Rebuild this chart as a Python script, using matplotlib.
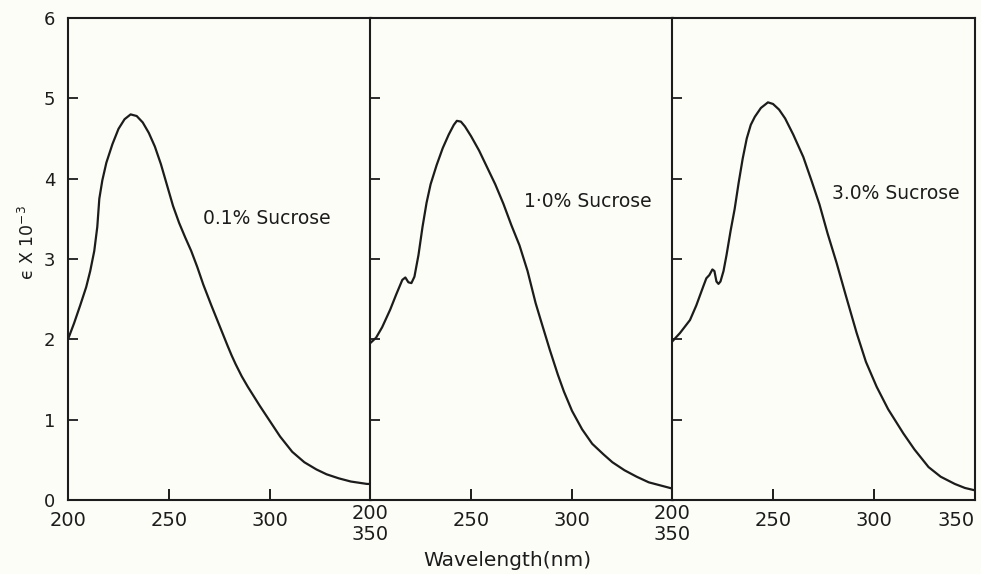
import matplotlib
matplotlib.use('Agg')
import matplotlib.pyplot as plt

# wavelength (nm) and epsilon x 10^-3
wl_01 = [200, 203, 206, 209, 211, 213, 214.5, 215.5, 217, 219, 222, 225, 228, 231, 234, 237,
         240, 243, 246, 249, 252, 255, 258, 261, 264, 267, 271, 275, 279, 281, 283, 286, 289,
         292, 295, 300, 305, 311, 317, 323, 328, 334, 340, 348, 350]
eps_01 = [2.0, 2.2, 2.42, 2.65, 2.85, 3.1, 3.4, 3.75, 3.98, 4.2, 4.43, 4.62, 4.74, 4.8, 4.78, 4.7,
          4.57, 4.4, 4.18, 3.92, 3.66, 3.45, 3.27, 3.1, 2.9, 2.68, 2.42, 2.17, 1.92, 1.8, 1.69, 1.54, 1.41,
          1.29, 1.17, 0.98, 0.79, 0.6, 0.47, 0.38, 0.32, 0.27, 0.23, 0.2, 0.2]

wl_10 = [200, 203, 206, 210, 213, 216, 217.5, 219, 220.5, 222, 224, 226, 228, 230, 233, 236,
         239, 241.5, 243, 245, 247, 250, 254, 258, 262, 266, 270, 274, 278, 282, 285, 289,
         293, 296, 300, 305, 310, 315.5, 320, 326, 332, 338, 344, 350]
eps_10 = [1.95, 2.02, 2.15, 2.37, 2.56, 2.74, 2.77, 2.71, 2.70, 2.78, 3.05, 3.4, 3.7, 3.93, 4.17, 4.38,
          4.55, 4.67, 4.72, 4.71, 4.65, 4.53, 4.35, 4.14, 3.93, 3.69, 3.42, 3.17, 2.85, 2.45, 2.2, 1.87,
          1.56, 1.35, 1.11, 0.88, 0.7, 0.57, 0.47, 0.37, 0.29, 0.22, 0.18, 0.14]

wl_30 = [200, 204, 208.9, 212, 215.5, 217, 218.5, 220, 221, 222, 223, 224, 225.5, 227, 229, 231,
         233, 235, 237, 239, 241, 244, 247.5, 250, 253, 256, 260, 265, 269, 273, 277, 281.5,
         286, 291.4, 296, 301.3, 307, 314.5, 320, 327, 333, 340, 345, 350]
eps_30 = [1.97, 2.08, 2.24, 2.42, 2.66, 2.76, 2.8, 2.87, 2.85, 2.72, 2.69, 2.72, 2.85, 3.05, 3.35, 3.62,
          3.95, 4.25, 4.5, 4.67, 4.77, 4.88, 4.95, 4.93, 4.86, 4.75, 4.55, 4.27, 3.98, 3.68, 3.32, 2.95,
          2.55, 2.08, 1.72, 1.41, 1.13, 0.83, 0.63, 0.41, 0.29, 0.2, 0.15, 0.12]

labels = ['0.1% Sucrose', '1·0% Sucrose', '3.0% Sucrose']
label_pos = [(267, 3.5), (276, 3.72), (279, 3.81)]
xticks = [200, 250, 300, 350]
yticks = [0, 1, 2, 3, 4, 5, 6]

ink = '#1c1c1c'
bg = '#fdfdf8'

fig = plt.figure(figsize=(9.81, 5.74), dpi=100, facecolor=bg)

series = [(wl_01, eps_01), (wl_10, eps_10), (wl_30, eps_30)]
lefts = [68, 370, 672]
W, H = 981, 574

for i, (wl, eps) in enumerate(series):
    ax = fig.add_axes([lefts[i] / W, 1 - 500 / H, 303 / W, 482 / H])
    ax.set_facecolor(bg)
    ax.plot(wl, eps, color=ink, lw=1.6)
    ax.set_xlim(200, 350)
    ax.set_ylim(0, 6)
    for s in ax.spines.values():
        s.set_color(ink)
        s.set_linewidth(1.5)

    ax.set_xticks(xticks)
    ticklabs = ['200' if i == 0 else '', '250', '300', '350' if i == 2 else '']
    ax.set_xticklabels(ticklabs, fontsize=14, color=ink)
    ax.tick_params(axis='x', direction='in', length=8, width=1.4, color=ink, pad=8)
    if i == 2:
        ax.get_xticklabels()[-1].set_ha('right')
    if i > 0:
        # shared boundary: end of previous panel and start of this one
        ax.text(200, -0.008, '200\n350', transform=ax.get_xaxis_transform(),
                fontsize=14, color=ink, ha='center', va='top', linespacing=1.15)

    ax.set_yticks(yticks)
    if i == 0:
        ax.set_yticklabels([str(v) for v in yticks], fontsize=13, color=ink)
    else:
        ax.set_yticklabels([])
    ax.tick_params(axis='y', direction='in', length=7, width=1.3, color=ink, pad=9)
    ax.text(label_pos[i][0], label_pos[i][1], labels[i], fontsize=13.5, color=ink,
            va='center', ha='left')

fig.text(28 / W, 1 - 243 / H, '\u03f5 X 10$^{-3}$', rotation=90, fontsize=12.5,
         color=ink, ha='center', va='center')
fig.text(507 / W, 1 - 561 / H, 'Wavelength(nm)', fontsize=14.5, color=ink,
         ha='center', va='center')

fig.savefig('out.png', dpi=100, facecolor=bg)
